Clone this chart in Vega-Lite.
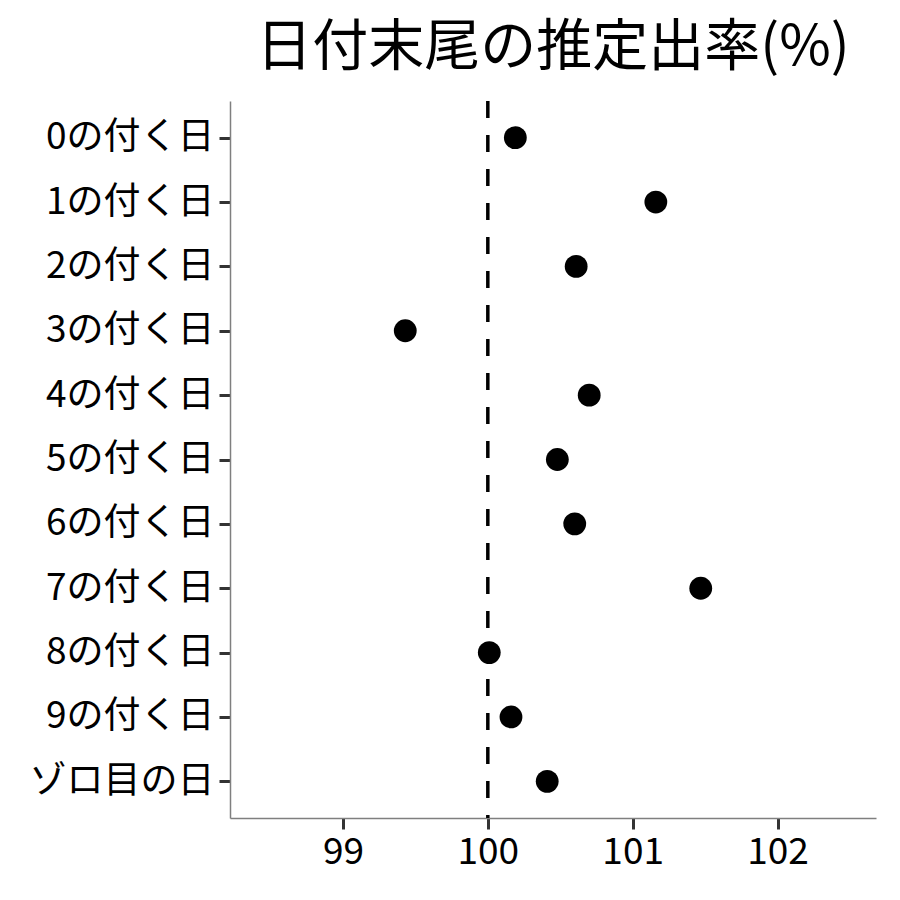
{
  "$schema": "https://vega.github.io/schema/vega-lite/v6.json",
  "autosize": {"type": "none"},
  "width": 646,
  "height": 717,
  "padding": {"left": 230, "top": 101, "right": 24, "bottom": 82},
  "background": "white",
  "config": {
    "view": {"stroke": null},
    "font": "Noto Sans CJK JP"
  },
  "title": {
    "text": "日付末尾の推定出率(%)",
    "font": "Noto Sans CJK JP",
    "fontSize": 56,
    "fontWeight": "normal",
    "color": "#000000",
    "anchor": "middle",
    "frame": "group",
    "offset": 22
  },
  "datasets": {
    "main": [
      {"label": "0の付く日", "rate": 100.19},
      {"label": "1の付く日", "rate": 101.16},
      {"label": "2の付く日", "rate": 100.61},
      {"label": "3の付く日", "rate": 99.43},
      {"label": "4の付く日", "rate": 100.70},
      {"label": "5の付く日", "rate": 100.48},
      {"label": "6の付く日", "rate": 100.60},
      {"label": "7の付く日", "rate": 101.47},
      {"label": "8の付く日", "rate": 100.01},
      {"label": "9の付く日", "rate": 100.16},
      {"label": "ゾロ目の日", "rate": 100.41}
    ],
    "ref": [{"x": 100}]
  },
  "layer": [
    {
      "data": {"name": "ref"},
      "mark": {"type": "rule", "color": "#000000", "strokeWidth": 3.5, "strokeDash": [17, 17]},
      "encoding": {
        "x": {"field": "x", "type": "quantitative", "scale": {"domain": [98.22, 102.68], "nice": false, "zero": false}}
      }
    },
    {
      "data": {"name": "main"},
      "mark": {"type": "point", "filled": true, "color": "#000000", "opacity": 1, "size": 520},
      "encoding": {
        "x": {
          "field": "rate", "type": "quantitative",
          "scale": {"domain": [98.22, 102.68], "nice": false, "zero": false},
          "axis": {
            "title": null, "values": [99, 100, 101, 102], "format": "d", "grid": false,
            "domainColor": "#7f7f7f", "domainWidth": 1.5,
            "tickColor": "#333333", "tickWidth": 3, "tickSize": 11,
            "labelFont": "Noto Sans CJK JP", "labelFontSize": 37, "labelColor": "#000000", "labelPadding": 5
          }
        },
        "y": {
          "field": "label", "type": "ordinal",
          "sort": null,
          "scale": {"type": "point", "padding": 0.57},
          "axis": {
            "title": null, "grid": false, "labelLimit": 0,
            "domainColor": "#7f7f7f", "domainWidth": 1.5,
            "tickColor": "#333333", "tickWidth": 3, "tickSize": 11,
            "labelFont": "Noto Sans CJK JP", "labelFontSize": 37, "labelColor": "#000000", "labelPadding": 5
          }
        }
      }
    }
  ]
}
